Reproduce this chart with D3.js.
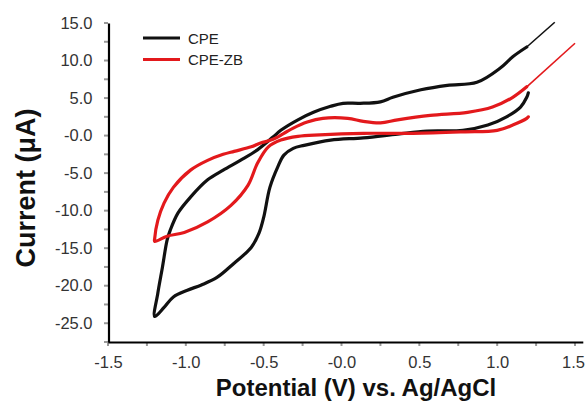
<!DOCTYPE html>
<html>
<head>
<meta charset="utf-8">
<script src="https://cdn.jsdelivr.net/npm/d3@7"></script>
<style>
    body { margin: 0; background: #fff; }
    svg { font-family: "Liberation Sans", Arial, sans-serif; }
</style>
</head>
<body>
<div id="cvChart"></div>
<script>
// Cyclic voltammogram values (potential in V, current in uA)
const cpeV = [1.19, 1.10, 1.02, 0.87, 0.68, 0.51, 0.33, 0.25, 0.12, 0.01, -0.07, -0.18, -0.28, -0.39, -0.44, -0.54, -0.65, -0.76, -0.86, -0.97, -1.05, -1.10, -1.12, -1.15, -1.18, -1.20,
              -1.14, -1.08, -0.99, -0.90, -0.80, -0.69, -0.58, -0.53, -0.50, -0.46, -0.41, -0.37, -0.31, -0.24, -0.07, 0.14, 0.36, 0.55, 0.78, 0.94, 1.06, 1.15, 1.19, 1.20];
const cpeI = [11.8, 10.5, 9.0, 7.1, 6.7, 6.1, 5.1, 4.5, 4.3, 4.3, 3.9, 3.1, 2.1, 0.7, -0.2, -1.9, -3.3, -4.6, -5.9, -8.2, -10.3, -12.6, -13.9, -17.5, -21.0, -24.1,
              -22.9, -21.5, -20.6, -19.9, -18.9, -17.0, -14.9, -13.0, -10.9, -6.9, -4.2, -2.6, -1.7, -1.3, -0.6, -0.3, 0.2, 0.6, 0.7, 1.4, 2.5, 3.8, 5.1, 5.7];

const zbV = [1.19, 1.10, 0.97, 0.81, 0.57, 0.36, 0.25, 0.14, 0.04, -0.12, -0.22, -0.31, -0.37, -0.44, -0.52, -0.58, -0.69, -0.76, -0.86, -0.97, -1.08, -1.14, -1.18, -1.20, -1.20,
             -1.12, -1.01, -0.86, -0.71, -0.60, -0.54, -0.47, -0.39, -0.28, -0.14, 0.14, 0.46, 0.78, 1.00, 1.10, 1.19, 1.20];
const zbI = [6.5, 5.1, 3.8, 3.1, 2.7, 2.1, 1.7, 1.9, 2.3, 2.3, 1.8, 1.0, 0.3, -0.5, -1.0, -1.5, -2.1, -2.5, -3.3, -4.6, -6.9, -9.0, -11.3, -13.7, -14.1,
             -13.4, -12.9, -11.5, -9.3, -6.6, -3.7, -1.5, -0.6, -0.1, 0.1, 0.3, 0.3, 0.5, 0.7, 1.4, 2.3, 2.5];

// thin straight extensions past 1.2 V
const cpeExtV = [1.19, 1.37];
const cpeExtI = [11.8, 15.1];
const zbExtV = [1.19, 1.50];
const zbExtI = [6.5, 12.3];

const seriesNames = ["CPE", "CPE-ZB"];
const seriesColors = ["#111111", "#e3191c"];

const xTicks = [-1.5, -1.0, -0.5, 0, 0.5, 1.0, 1.5];
const xTickLabels = ["-1.5", "-1.0", "-0.5", "-0.0", "0.5", "1.0", "1.5"];
const yTicks = [15, 10, 5, 0, -5, -10, -15, -20, -25];
const yTickLabels = ["15.0", "10.0", "5.0", "-0.0", "-5.0", "-10.0", "-15.0", "-20.0", "-25.0"];

const width = 585;
const height = 403;

const svg = d3.select("#cvChart")
    .append("svg")
    .attr("width", width)
    .attr("height", height);

//Define scales for x and y
const xScale = d3.scaleLinear()
    .domain([-1.5, 1.55])
    .range([108, 108 + 3.05 * 155.67]);

const yScale = d3.scaleLinear()
    .domain([-27.5, 15])
    .range([342, 23]);

const toPoints = (vs, is) => vs.map((v, i) => [v, is[i]]);

const line = d3.line()
    .x(d => xScale(d[0]))
    .y(d => yScale(d[1]))
    .curve(d3.curveCatmullRom.alpha(0.5));

// minor ticks every 0.25 V / 2.5 uA
const xMinor = d3.range(-1.5, 1.5001, 0.25);
const yMinor = d3.range(-27.5, 15.001, 2.5);

svg.append("g")
    .selectAll("line")
    .data(xMinor)
    .join("line")
    .attr("x1", d => xScale(d))
    .attr("x2", d => xScale(d))
    .attr("y1", 342)
    .attr("y2", 346)
    .attr("stroke", "#999")
    .attr("stroke-width", 2);

svg.append("g")
    .selectAll("line")
    .data(yMinor)
    .join("line")
    .attr("x1", 104)
    .attr("x2", 108)
    .attr("y1", d => yScale(d))
    .attr("y2", d => yScale(d))
    .attr("stroke", "#999")
    .attr("stroke-width", 2);

//Add axes (lines and labels only, ticks drawn above)
const xAxis = d3.axisBottom(xScale)
    .tickValues(xTicks)
    .tickFormat((d, i) => xTickLabels[i])
    .tickSize(0)
    .tickPadding(14);

const yAxis = d3.axisLeft(yScale)
    .tickValues(yTicks)
    .tickFormat((d, i) => yTickLabels[i])
    .tickSize(0)
    .tickPadding(16);

const gx = svg.append("g")
    .attr("transform", `translate(0, 342)`)
    .call(xAxis);

const gy = svg.append("g")
    .attr("transform", `translate(108.5, 0)`)
    .call(yAxis);

[gx, gy].forEach(g => {
    g.select(".domain").attr("stroke", "#000").attr("stroke-width", 2.2);
    g.selectAll("text")
        .attr("fill", "#333")
        .style("font-size", "16.5px");
});

// keep the last x label inside the frame
gx.selectAll(".tick text")
    .filter(d => d === 1.5)
    .attr("dx", -2);

// curves
const curves = [
    { pts: toPoints(cpeV, cpeI), ext: toPoints(cpeExtV, cpeExtI), color: seriesColors[0] },
    { pts: toPoints(zbV, zbI), ext: toPoints(zbExtV, zbExtI), color: seriesColors[1] }
];

curves.forEach(c => {
    svg.append("path")
        .datum(c.ext)
        .attr("d", d3.line().x(d => xScale(d[0])).y(d => yScale(d[1])))
        .attr("fill", "none")
        .attr("stroke", c.color)
        .attr("stroke-width", 1.6);

    svg.append("path")
        .datum(c.pts)
        .attr("d", line)
        .attr("fill", "none")
        .attr("stroke", c.color)
        .attr("stroke-width", 3.2)
        .attr("stroke-linejoin", "round")
        .attr("stroke-linecap", "round");
});

// legend
const legend = svg.append("g")
    .selectAll("g")
    .data(seriesNames)
    .join("g")
    .attr("transform", (d, i) => `translate(143, ${38 + i * 21.5})`);

legend.append("line")
    .attr("x1", 0)
    .attr("x2", 37)
    .attr("stroke", (d, i) => seriesColors[i])
    .attr("stroke-width", 3);

legend.append("text")
    .attr("x", 45)
    .attr("y", 5.5)
    .style("font-size", "15px")
    .attr("fill", "#222")
    .text(d => d);

//Label the axes
svg.append("text")
    .attr("x", 356)
    .attr("y", 396)
    .style("text-anchor", "middle")
    .style("font-size", "24px")
    .style("font-weight", "bold")
    .attr("fill", "#111")
    .text("Potential (V) vs. Ag/AgCl");

svg.append("text")
    .attr("transform", "translate(35, 188) rotate(-90)")
    .style("text-anchor", "middle")
    .style("font-size", "27px")
    .style("font-weight", "bold")
    .attr("fill", "#111")
    .text("Current (μA)");
</script>
</body>
</html>
